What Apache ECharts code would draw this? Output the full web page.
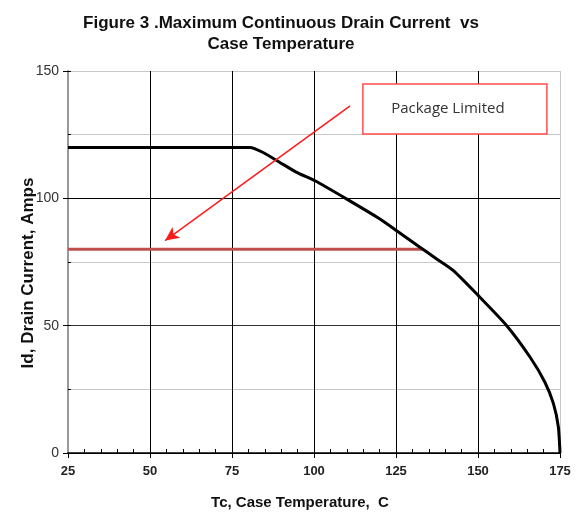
<!DOCTYPE html>
<html>
<head>
<meta charset="utf-8">
<script src="https://cdn.jsdelivr.net/npm/echarts@6/dist/echarts.min.js"></script>
<style>
html,body{margin:0;padding:0;background:#fff;}
#chart{width:585px;height:517px;}
</style>
</head>
<body>
<div id="chart"></div>
<script>
// ---- data ----
const titleText = 'Figure 3 .Maximum Continuous Drain Current  vs\nCase Temperature';
const xAxisName = 'Tc, Case Temperature,  C';
const yAxisName = 'Id, Drain Current, Amps';
const xTicks = [25, 50, 75, 100, 125, 150, 175];
const yTicks = [0, 50, 100, 150];
// maximum continuous drain current (A) vs case temperature (C)
const caseTemp = [25, 80.5, 84.5, 89.6, 94.7, 100.3, 110, 120.1, 125.2, 132.3, 137.4, 142.5, 150.1, 158.7, 165.9, 170.4, 173, 174.5, 175];
const drainCurrent = [120, 120, 118, 114.1, 110.2, 106.9, 99.7, 91.9, 87.3, 80.8, 76.2, 71.6, 61.8, 50.1, 37.6, 27.8, 19.4, 10.2, 0];
// package limited line
const pkgTemp = [25, 133];
const pkgCurrent = [80, 80];
// annotation
const annoText = 'Package Limited';
const arrowFrom = [111, 136.3];
const arrowTo = [54.6, 83.4];
const annoBoxFrom = [114.9, 144.9];
const annoBoxTo = [171.0, 125.3];

const chart = echarts.init(document.getElementById('chart'));
const sans = "'Liberation Sans', Arial, sans-serif";

const mainData = caseTemp.map((t, i) => [t, drainCurrent[i]]);
const pkgData = pkgTemp.map((t, i) => [t, pkgCurrent[i]]);

chart.setOption({
  animation: false,
  backgroundColor: '#fff',
  title: {
    text: titleText,
    left: 276, top: 8,
    textAlign: 'center',
    textStyle: { fontFamily: sans, fontWeight: 'bold', fontSize: 17, color: '#111', lineHeight: 21 }
  },
  grid: { left: 68, right: 25, top: 71, bottom: 64 },
  xAxis: [{
    type: 'value', min: 25, max: 175, interval: 25,
    position: 'bottom',
    name: xAxisName, nameLocation: 'middle', nameGap: 42,
    nameTextStyle: { fontFamily: sans, fontWeight: 'bold', fontSize: 15, color: '#111', padding: [0, 28, 0, 0] },
    axisLine: { show: true, onZero: false, lineStyle: { color: '#000', width: 1.5 } },
    axisTick: { show: true, inside: false, length: 5, lineStyle: { color: '#000' } },
    axisLabel: { fontFamily: sans, fontSize: 13, color: '#222', margin: 12, fontWeight: 'bold' },
    splitLine: { show: true, lineStyle: { color: ['#000', '#000', '#000', '#000', '#000', '#000', '#c8c8c8'], width: 1 } }
  }, {
    type: 'value', min: 25, max: 175, interval: 25,
    position: 'bottom', gridIndex: 0,
    axisLine: { show: false, onZero: false },
    axisTick: { show: false, inside: true },
    minorTick: { show: true, splitNumber: 5, length: 4, lineStyle: { color: '#000', width: 1 } },
    axisLabel: { show: false },
    splitLine: { show: false }
  }],
  yAxis: [{
    type: 'value', min: 0, max: 150, interval: 25,
    position: 'left',
    name: yAxisName, nameLocation: 'middle', nameGap: 31, nameRotate: 90,
    nameTextStyle: { fontFamily: sans, fontWeight: 'bold', fontSize: 17, color: '#111', padding: [0, 22, 0, 0] },
    axisLine: { show: true, onZero: false, lineStyle: { color: '#999', width: 2 } },
    axisTick: { show: true, inside: true, length: 3, lineStyle: { color: '#000' } },
    axisLabel: { show: false },
    splitLine: { show: true, lineStyle: { color: ['#000', '#c8c8c8', '#333', '#c8c8c8', '#000', '#c8c8c8', '#c8c8c8'], width: 1 } }
  }, {
    type: 'value', min: 0, max: 150, interval: 50,
    position: 'left', offset: 0,
    axisLine: { show: false },
    axisTick: { show: true, inside: false, length: 5, lineStyle: { color: '#000' } },
    axisLabel: { fontFamily: sans, fontSize: 14, color: '#333', margin: 9, formatter: v => yTicks.includes(v) ? String(v) : '' },
    splitLine: { show: false }
  }],
  series: [{
    type: 'line', data: pkgData, xAxisIndex: 0, yAxisIndex: 0,
    symbol: 'none', lineStyle: { color: '#c0504d', width: 3 }, z: 3
  }, {
    type: 'line', data: mainData, xAxisIndex: 0, yAxisIndex: 0,
    symbol: 'none', smooth: 0.2,
    lineStyle: { color: '#000', width: 3 }, z: 4,
    markLine: {
      silent: true, symbol: ['none', 'arrow'], symbolSize: [10, 14],
      lineStyle: { color: '#ff1a1a', width: 1.5, type: 'solid' },
      label: { show: false },
      data: [[{ coord: arrowFrom }, { coord: arrowTo }]]
    },
    markArea: {
      silent: true,
      itemStyle: { color: '#fff', borderColor: '#ff4d4d', borderWidth: 1.5, opacity: 1 },
      label: { show: true, position: 'inside', formatter: annoText, color: '#333', fontSize: 15, fontFamily: "'Open Sans', 'Noto Sans', sans-serif", offset: [-7, 0] },
      data: [[{ coord: annoBoxFrom }, { coord: annoBoxTo }]]
    }
  }]
});
</script>
</body>
</html>
